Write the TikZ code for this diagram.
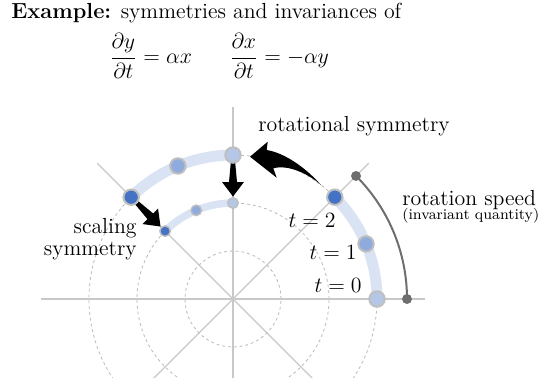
\documentclass[tikz,border=0pt]{standalone}
\usetikzlibrary{calc}
\definecolor{dkblue}{HTML}{4472C4}
\definecolor{mdblue}{HTML}{8FAADC}
\definecolor{ltblue}{HTML}{B4C7E7}
\definecolor{bandblue}{HTML}{DAE3F3}
\definecolor{ringgray}{HTML}{BFBFBF}
\definecolor{axisgray}{HTML}{C8C8C8}
\definecolor{dashgray}{HTML}{BBBBBB}
\definecolor{speedgray}{HTML}{6E6E6E}
\pgfdeclarelayer{bg}
\pgfsetlayers{bg,main}
\begin{document}
\begin{tikzpicture}[x=0.55pt,y=0.55pt,
  font=\fontsize{12}{14.4}\selectfont,
  axisline/.style={draw=axisgray,line width=0.7pt},
  dashcircle/.style={draw=dashgray,line width=0.45pt,dash pattern=on 1.6pt off 1.6pt},
  band/.style={draw=bandblue,line width=6pt},
  smallband/.style={draw=bandblue,line width=4.1pt},
  bigdot/.style={circle,inner sep=0pt,minimum size=8.5pt,draw=ringgray,line width=1.1pt},
  smalldot/.style={circle,inner sep=0pt,minimum size=5.8pt,draw=ringgray,line width=0.8pt},
  speeddot/.style={circle,inner sep=0pt,minimum size=5.5pt,fill=speedgray},
  speedline/.style={draw=speedgray,line width=1.1pt},
  lbl/.style={inner sep=0pt},
  smalltext/.style={font=\fontsize{8.2}{10}\selectfont},
  tapered/.pic={\fill[black] (0,1.5) -- (27,4) -- (27,11) -- (41.5,0) -- (27,-11) -- (27,-4) -- (0,-1.5) -- cycle;}
]
\useasboundingbox (-233,-78) rectangle (308,299);

% dots
\node[bigdot,fill=ltblue] (o0) at (0:144) {};
\node[bigdot,fill=mdblue] (o1) at (22.5:144) {};
\node[bigdot,fill=dkblue] (o2) at (45:144) {};
\node[bigdot,fill=ltblue] (t0) at (90:144) {};
\node[bigdot,fill=mdblue] (t1) at (112.5:144) {};
\node[bigdot,fill=dkblue] (t2) at (135:144) {};
\node[smalldot,fill=ltblue] (i0) at (90:96) {};
\node[smalldot,fill=mdblue] (i1) at (112.5:96) {};
\node[smalldot,fill=dkblue] (i2) at (135:96) {};
\node[speeddot] (s0) at (0:174) {};
\node[speeddot] (s1) at (45:174) {};

\begin{pgfonlayer}{bg}
  \begin{scope}
    \clip (-233,-78) rectangle (308,299);
    \draw[dashcircle] (0,0) circle[radius=48];
    \draw[dashcircle] (0,0) circle[radius=96];
    \draw[dashcircle] (0,0) circle[radius=144];
    \draw[axisline] (-192,0) -- (192,0);
    \draw[axisline] (0,-192) -- (0,192);
    \draw[axisline] (225:192) -- (45:192);
    \draw[axisline] (135:192) -- (315:192);
  \end{scope}
  \draw[speedline] (s0.center) arc[start angle=0,end angle=45,radius=174];
  \draw[band] (o0.center) arc[start angle=0,end angle=45,radius=144];
  \draw[band] (t0.center) arc[start angle=90,end angle=135,radius=144];
  \draw[smallband] (i0.center) arc[start angle=90,end angle=135,radius=96];
  % scaling arrows
  \path (t0.center) pic[rotate=-90] {tapered};
  \path (t2.center) pic[rotate=-45] {tapered};
  % rotational arrow
  \fill[black] (17,142.3) -- (34.7,157.3) -- (33.7,149)
     .. controls (52,146) and (73,131) .. (88,114)
     .. controls (77,124) and (56,135) .. (40.3,130.7)
     -- (43.7,121.3) -- cycle;
\end{pgfonlayer}

% texts
\node[lbl,anchor=base west] (title) at (-222,280.7) {\textbf{Example:} symmetries and invariances of};
\node[lbl,anchor=base west] (eq1) at (-124,235.5) {$\displaystyle\frac{\partial y}{\partial t}=\alpha x$};
\node[lbl,anchor=base west] (eq2) at (-4,235.5) {$\displaystyle\frac{\partial x}{\partial t}=-\alpha y$};
\node[lbl,anchor=base west] (rotlbl) at (25,167.3) {rotational symmetry};
\node[lbl,anchor=base west] (speedlbl) at (169,94) {rotation speed};
\node[lbl,anchor=base west,smalltext] (invlbl) at (169,79.5) {(invariant quantity)};
\node[lbl,anchor=base east] (scal1) at (-96,66) {scaling};
\node[lbl,anchor=base east] (scal2) at (-96,44) {symmetry};
\node[lbl,anchor=base east] (lt2) at (103,71.3) {$t=2$};
\node[lbl,anchor=base east] (lt1) at (124,39.7) {$t=1$};
\node[lbl,anchor=base east] (lt0) at (129,6.3) {$t=0$};
\end{tikzpicture}
\end{document}
